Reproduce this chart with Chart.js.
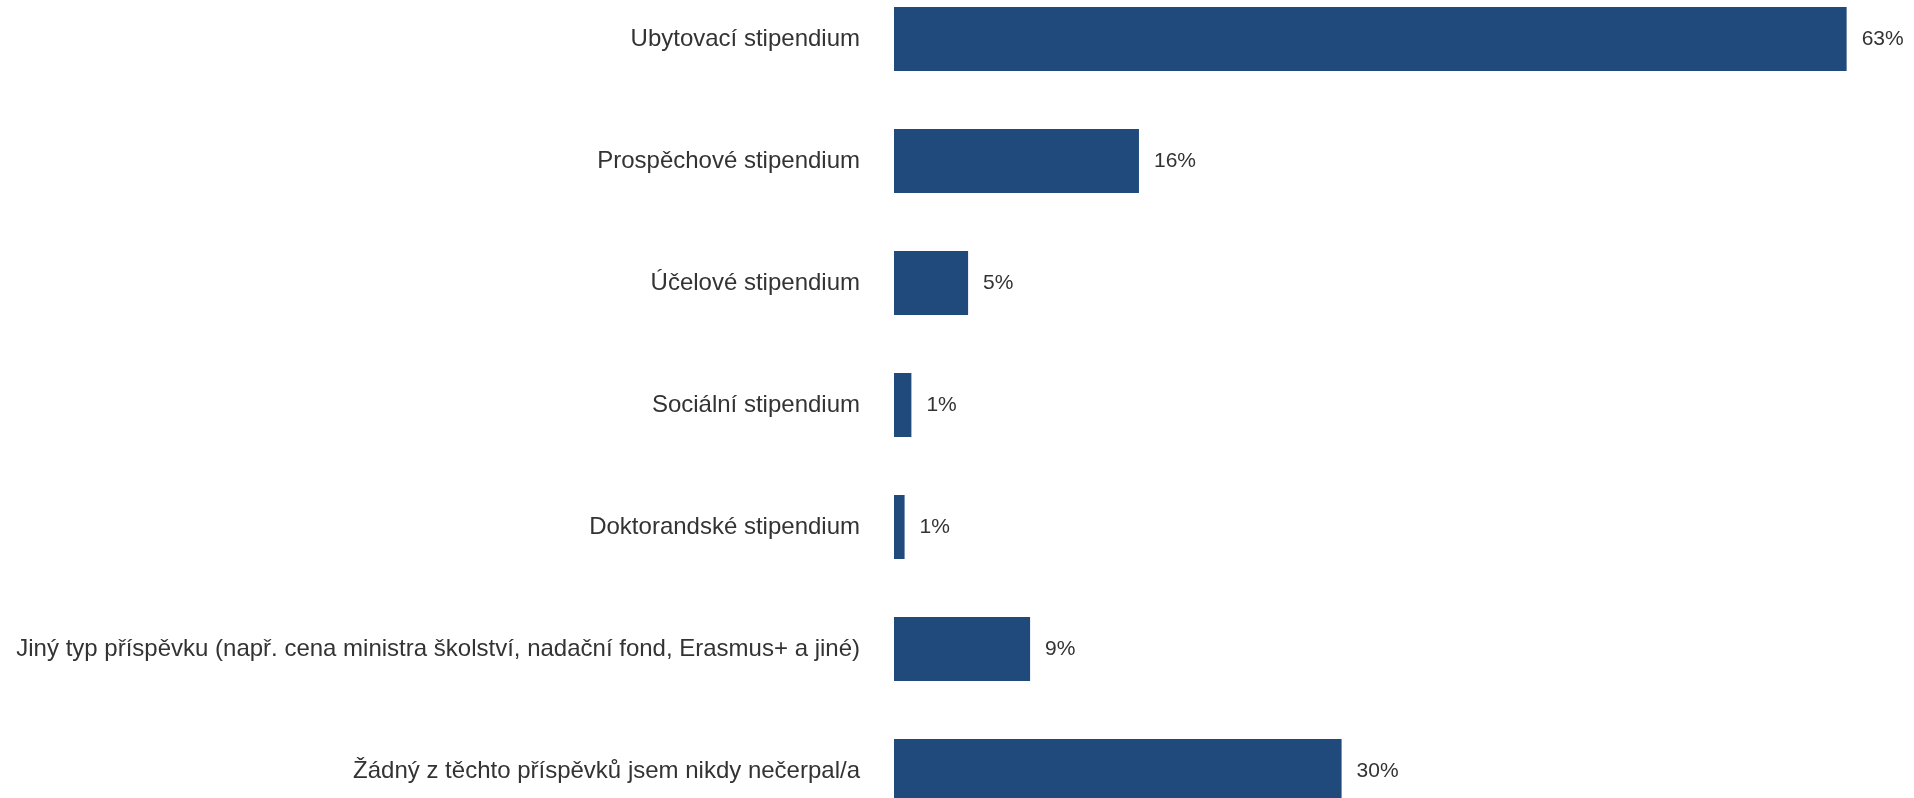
<!DOCTYPE html>
<html>
<head>
<meta charset="utf-8">
<script src="https://cdn.jsdelivr.net/npm/chart.js@4"></script>
<style>
  html, body { margin: 0; padding: 0; background: #fff; overflow: hidden; }
  #chart { position: absolute; left: 0; top: -22px; width: 1914px; height: 854px; }
</style>
</head>
<body>
<canvas id="chart" width="1914" height="854"></canvas>
<script>
// Kategorie (osa Y)
const categories = [
    "Ubytovací stipendium",
    "Prospěchové stipendium",
    "Účelové stipendium",
    "Sociální stipendium",
    "Doktorandské stipendium",
    "Jiný typ příspěvku (např. cena ministra školství, nadační fond, Erasmus+ a jiné)",
    "Žádný z těchto příspěvků jsem nikdy nečerpal/a"
];

// Hodnoty v procentech
const values = [63, 16.2, 4.9, 1.15, 0.7, 9.0, 29.6];

// Popisky hodnot u sloupců
const valueLabels = ["63%", "16%", "5%", "1%", "1%", "9%", "30%"];

const barColor = "#20497c";
const textColor = "#333333";
const fontFamily = "'Liberation Sans', Arial, Helvetica, sans-serif";

// Plugin pro vykreslení popisků hodnot za koncem sloupce
const valueLabelPlugin = {
    id: "valueLabels",
    afterDatasetsDraw(chart) {
        const ctx = chart.ctx;
        const meta = chart.getDatasetMeta(0);
        ctx.save();
        ctx.font = "21px " + fontFamily;
        ctx.fillStyle = textColor;
        ctx.textAlign = "left";
        ctx.textBaseline = "middle";
        meta.data.forEach((bar, i) => {
            ctx.fillText(valueLabels[i], bar.x + 15, bar.y);
        });
        ctx.restore();
    }
};

const ctx = document.getElementById("chart").getContext("2d");
new Chart(ctx, {
    type: "bar",
    data: {
        labels: categories,
        datasets: [{
            data: values,
            backgroundColor: barColor,
            borderWidth: 0,
            categoryPercentage: 1,
            barPercentage: 0.525
        }]
    },
    options: {
        indexAxis: "y",
        responsive: false,
        animation: false,
        layout: {
            padding: { left: 0, right: 22, top: 0, bottom: 0 }
        },
        scales: {
            x: {
                display: false,
                min: 0,
                max: 66
            },
            y: {
                grid: { display: false, drawTicks: false },
                border: { display: false },
                ticks: {
                    color: textColor,
                    padding: 34,
                    font: { size: 24, family: fontFamily }
                },
                afterFit(scale) {
                    // pevná šířka osy a žádné svislé odsazení kvůli popiskům
                    scale.width = 894;
                    scale.paddingTop = 0;
                    scale.paddingBottom = 0;
                }
            }
        },
        plugins: {
            legend: { display: false },
            tooltip: { enabled: false }
        }
    },
    plugins: [valueLabelPlugin]
});
</script>
</body>
</html>
